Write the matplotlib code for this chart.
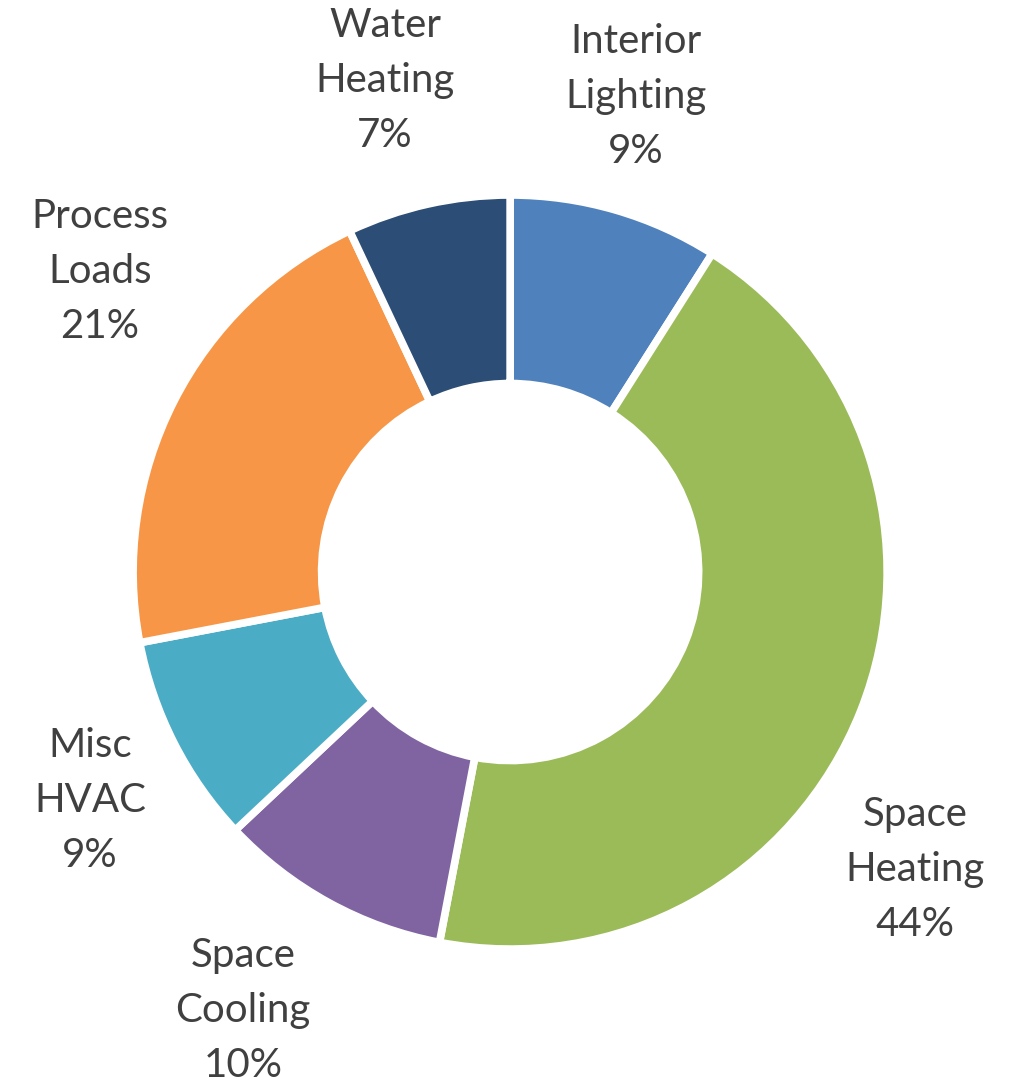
import matplotlib
matplotlib.use("Agg")
import matplotlib.pyplot as plt

categories = ["Interior\nLighting", "Space\nHeating", "Space\nCooling",
              "Misc\nHVAC", "Process\nLoads", "Water\nHeating"]
values = [9, 44, 10, 9, 21, 7]
colors = ["#4F81BD", "#9BBB59", "#8064A2", "#4BACC6", "#F79646", "#2C4D75"]

# label centre positions (data units, radius = 1)
label_pos = [(0.334, 1.26), (1.074, -0.790), (-0.708, -1.162),
             (-1.114, -0.605), (-1.088, 0.796), (-0.332, 1.304)]

fig = plt.figure(figsize=(10.18, 10.86), dpi=100)
ax = fig.add_axes([0, 0, 1, 1])
ax.pie(values, colors=colors, startangle=90, counterclock=False,
       radius=1.0, wedgeprops=dict(width=0.5, edgecolor="white", linewidth=5.5))
ax.set_xlim(-1.353, 1.347)
ax.set_ylim(-1.363, 1.517)
ax.set_aspect("equal")
ax.axis("off")

for cat, v, (x, y) in zip(categories, values, label_pos):
    ax.text(x, y, f"{cat}\n{v}%", ha="center", va="center", fontsize=29,
            family="Lato", color="#404040", linespacing=1.6)

fig.savefig("out.png", dpi=100)
